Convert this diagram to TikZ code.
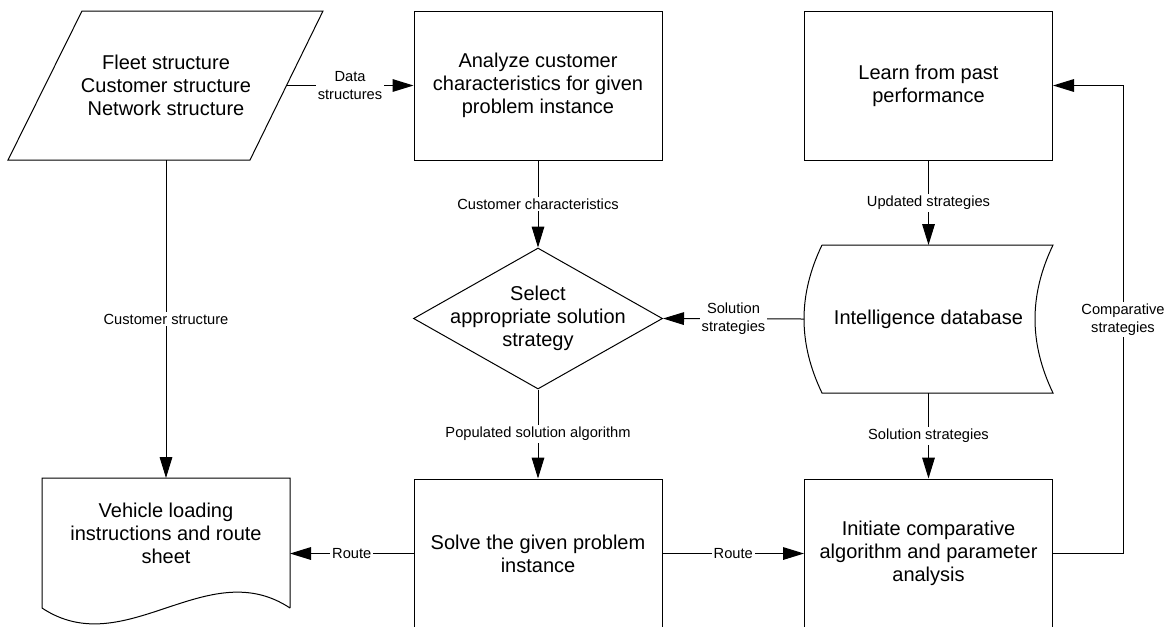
\documentclass[tikz,border=0pt]{standalone}
\usepackage{fontspec}
\setmainfont{Liberation Sans}
\usetikzlibrary{arrows.meta,shapes.geometric,positioning}

\tikzset{
  box/.style={draw,line width=0.75pt,minimum width=186pt,minimum height=111.75pt,
              inner sep=0pt,align=center,font=\fontsize{15}{17.25}\selectfont},
  decision/.style={draw,line width=0.75pt,shape=diamond,inner sep=0pt,
              minimum width=186.75pt,minimum height=105.75pt},
  txt/.style={align=center,inner sep=0pt,font=\fontsize{15}{17.25}\selectfont},
  lbl/.style={fill=white,inner sep=1.5pt,align=center,font=\fontsize{11}{13.5}\selectfont},
  flow/.style={line width=0.75pt,-{Triangle[length=15.75pt,width=9.5pt]}},
  link/.style={line width=0.75pt},
}

\begin{document}
\begin{tikzpicture}[x=0.75pt,y=-0.75pt]
% Raster in Pixel: 1169 x 626, die unteren Kaesten laufen unten aus dem Bild
\useasboundingbox (0,0) rectangle (1169,626);
\clip (0,0) rectangle (1169,626);

% Eingangsdaten (Parallelogramm)
\draw[link] (82,11) -- (323,11) -- (250,160) -- (8,160) -- cycle;
\node[txt] (fleet) at (166,85.5) {Fleet structure\\Customer structure\\Network structure};
\coordinate (fleetR) at (286.5,85.5);
\coordinate (fleetB) at (166,160);

% Prozesskaesten
\node[box] (analyze)  at (538,85.5)   {Analyze customer\\characteristics for given\\problem instance};
\node[box] (learn)    at (928.5,85.5) {Learn from past\\performance};
\node[box] (solve)    at (538,553.5)  {Solve the given problem\\instance};
\node[box] (initiate) at (928.5,553.5){Initiate comparative\\algorithm and parameter\\analysis};

% Entscheidung
\node[decision] (select) at (538,318.5) {};
\node[txt] (selecttxt) at (select) {Select\\appropriate solution\\strategy};

% Datenbank (gespeicherte Daten)
\draw[link] (822,245) -- (1053,245)
  .. controls (1029,295) and (1029,343) .. (1053,393) -- (822,393)
  .. controls (798,343) and (798,295) .. (822,245);
\node[txt] (db) at (928.5,319) {Intelligence database};
\coordinate (dbT) at (928.5,245);
\coordinate (dbB) at (928.5,393);
\coordinate (dbL) at (804,319);

% Dokument mit Wellenkante
\draw[link] (290,608) -- (290,478) -- (42,478) -- (42,608)
  .. controls (125,663) and (207,553) .. (290,608);
\node[txt] (vehicle) at (166,533) {Vehicle loading\\instructions and route\\sheet};
\coordinate (vehicleT) at (166,478);
\coordinate (vehicleR) at (290,553.5);

% Verbindungen
\draw[flow] (fleetR) -- node[lbl] {Data\\structures} (fleetR -| analyze.west);
\draw[flow] (analyze.south) -- node[lbl] {Customer characteristics} (select.north);
\draw[flow] (fleetB) -- node[lbl] {Customer structure} (vehicleT);
\draw[flow] (learn.south) -- node[lbl] {Updated strategies} (dbT);
\draw[flow] (dbL) -- node[lbl] {Solution\\strategies} (select.east);
\draw[flow] (select.south) -- node[lbl] {Populated solution algorithm} (solve.north);
\draw[flow] (dbB) -- node[lbl] {Solution strategies} (initiate.north);
\draw[flow] (solve.west) -- node[lbl] {Route} (vehicleR);
\draw[flow] (solve.east) -- node[lbl] {Route} (initiate.west);

% Rueckkopplung
\coordinate (loopB) at (1123,553.5);
\coordinate (loopT) at (1123,85.5);
\draw[flow] (initiate.east) -- (loopB) -- node[lbl] {Comparative\\strategies} (loopT) -- (learn.east);
\end{tikzpicture}
\end{document}
